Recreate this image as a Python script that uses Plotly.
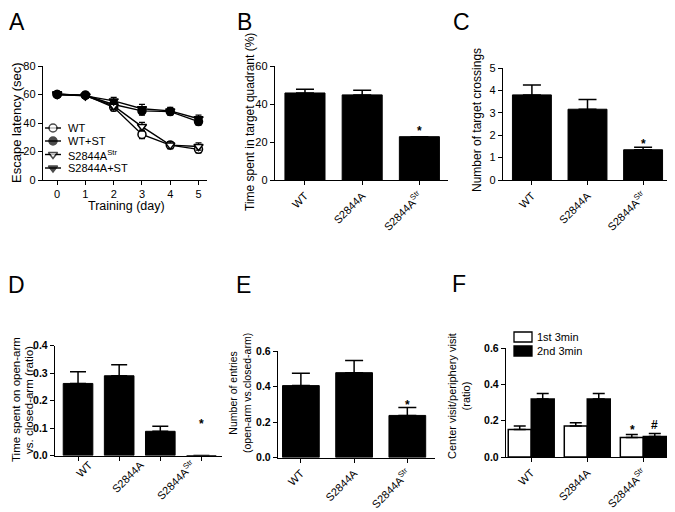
import plotly.graph_objects as go

W, H = 675, 512
OFF = 8  # the page body adds an 8px margin around the plot div
FONT = "Liberation Sans, Arial, sans-serif"

# ---- panel A: escape latency
days = [0, 1, 2, 3, 4, 5]
wt = [60, 59.5, 51, 32, 24.5, 21.5]
wt_err = [1.5, 1.5, 2.5, 3, 2.5, 2.5]
wt_st = [60, 59.5, 53, 48.5, 48, 41]
wt_st_err = [1.5, 1.5, 2.5, 3, 2.5, 2.5]
ko_str = [60, 59, 52, 37.5, 24.5, 23.5]
ko_str_err = [1.5, 1.5, 2.5, 3, 2.5, 2.5]
ko_st = [60.5, 59, 55.5, 50, 48.5, 43]
ko_st_err = [1.5, 1.5, 2.5, 3, 2.5, 2.5]
series_names = ["WT", "WT+ST", "S2844A<sup>Str</sup>", "S2844A+ST"]

groups = ["WT", "S2844A", "S2844A<sup>Str</sup>"]

# ---- panel B / C
quadrant = [45.8, 44.8, 22.8]
quadrant_err = [2.0, 2.5, 0.0]
crossings = [3.8, 3.16, 1.35]
crossings_err = [0.44, 0.43, 0.11]

# ---- panel D (four columns, three labels)
d_slots = [0, 1, 2, 3]
open_time = [0.262, 0.29, 0.088, 0.0]
open_time_err = [0.043, 0.04, 0.018, 0.0]
d_label_pos = [0.27, 1.52, 2.78]

# ---- panel E
entries = [0.405, 0.478, 0.237]
entries_err = [0.069, 0.069, 0.045]

# ---- panel F
f_series = ["1st 3min", "2nd 3min"]
first3 = [0.151, 0.170, 0.107]
first3_err = [0.019, 0.018, 0.017]
second3 = [0.319, 0.319, 0.113]
second3_err = [0.030, 0.030, 0.016]


def fx(a):
    return (a - OFF) / W


def fy(a):
    return 1 - (a - OFF) / H


def px_x(a, b):
    return [fx(a), fx(b)]


def px_y(top, bottom):
    return [fy(bottom), fy(top)]


def axis(domain, rng, anchor, **kw):
    d = dict(domain=domain, range=rng, anchor=anchor, showline=True, linecolor="black",
             linewidth=1.4, ticks="outside", ticklen=4, tickwidth=1.4, tickcolor="black",
             showgrid=False, zeroline=False, fixedrange=True, automargin=False,
             tickfont=dict(family=FONT, size=11, color="black"))
    d.update(kw)
    return d


def err(vals, w=9):
    return dict(type="data", array=vals, arrayminus=[0] * len(vals), symmetric=False,
                color="black", thickness=1.5, width=w)


fig = go.Figure()

styles = [("circle", "white"), ("circle", "black"), ("triangle-down", "white"), ("triangle-down", "black")]
a_data = [(wt, wt_err), (wt_st, wt_st_err), (ko_str, ko_str_err), (ko_st, ko_st_err)]
for name, (vals, e), (sym, fill) in zip(series_names, a_data, styles):
    fig.add_trace(go.Scatter(
        x=days, y=vals, name=name, mode="lines+markers", xaxis="x", yaxis="y",
        line=dict(color="black", width=1.4),
        marker=dict(symbol=sym, size=8, color=fill, line=dict(color="black", width=1.5)),
        error_y=dict(type="data", array=e, color="black", thickness=1.2, width=3),
        showlegend=False))

# legend keys for panel A, drawn on a hidden pixel-scaled axis over the panel
key_y = [128, 141, 154.5, 168]
for name, (sym, fill), ky in zip(series_names, styles, key_y):
    fig.add_trace(go.Scatter(
        x=[45, 53, 61], y=[ky, ky, ky], mode="lines+markers", xaxis="x8", yaxis="y8",
        line=dict(color="black", width=1.4),
        marker=dict(symbol=sym, size=[0, 8, 0], color=fill, line=dict(color="black", width=1.5)),
        showlegend=False, hoverinfo="skip"))

bar_kw = dict(marker=dict(color="black", line=dict(color="black", width=1)), showlegend=False)
fig.add_trace(go.Bar(x=groups, y=quadrant, width=0.7, error_y=err(quadrant_err),
                     xaxis="x2", yaxis="y2", **bar_kw))
fig.add_trace(go.Bar(x=groups, y=crossings, width=0.7, error_y=err(crossings_err),
                     xaxis="x3", yaxis="y3", **bar_kw))
fig.add_trace(go.Bar(x=d_slots, y=open_time, width=0.72, error_y=err(open_time_err, 8),
                     xaxis="x4", yaxis="y4", **bar_kw))
fig.add_trace(go.Bar(x=groups, y=entries, width=0.69, error_y=err(entries_err),
                     xaxis="x5", yaxis="y5", **bar_kw))
fig.add_trace(go.Bar(x=groups, y=first3, width=0.41, offset=-0.41, name=f_series[0],
                     marker=dict(color="white", line=dict(color="black", width=1.5)),
                     error_y=err(first3_err, 6), xaxis="x6", yaxis="y6", showlegend=False))
fig.add_trace(go.Bar(x=groups, y=second3, width=0.41, offset=0, name=f_series[1],
                     marker=dict(color="black", line=dict(color="black", width=1.5)),
                     error_y=err(second3_err, 6), xaxis="x6", yaxis="y6", showlegend=False))
# invisible trace so the label axis of panel D is drawn
fig.add_trace(go.Scatter(x=d_label_pos, y=[None] * 3, xaxis="x7", yaxis="y4",
                         showlegend=False, hoverinfo="skip"))

bold = dict(family=FONT, size=10.5, color="black", weight="bold")
cat_kw = dict(type="category", tickangle=-45)
hidden = dict(visible=False, fixedrange=True, showgrid=False, zeroline=False)

fig.update_layout(
    width=W, height=H, margin=dict(l=0, r=0, t=0, b=0, autoexpand=False),
    paper_bgcolor="white", plot_bgcolor="rgba(0,0,0,0)", barmode="overlay", showlegend=False,
    font=dict(family=FONT, color="black"),
    xaxis=axis(px_x(43, 207), [-0.5, 5.3], "y", tickvals=days),
    yaxis=axis(px_y(66, 180), [0, 80], "x", dtick=20),
    xaxis8=dict(hidden, domain=px_x(43, 207), range=[43, 207], anchor="y8"),
    yaxis8=dict(hidden, domain=px_y(66, 180), range=[180, 66], anchor="x8"),
    xaxis2=axis(px_x(275, 448), [-0.524, 2.5], "y2", **cat_kw),
    yaxis2=axis(px_y(66, 180), [0, 60], "x2", dtick=20),
    xaxis3=axis(px_x(503, 672), [-0.52, 2.52], "y3", **cat_kw),
    yaxis3=axis(px_y(68, 180), [0, 5], "x3", dtick=1),
    xaxis4=axis(px_x(55, 222), [-0.56, 3.5], "y4", tickvals=d_slots, showticklabels=False),
    yaxis4=axis(px_y(345.5, 455.5), [0, 0.4], "x4", dtick=0.1, tickformat=".1f", tickfont=bold),
    xaxis7=axis(px_x(55, 222), [-0.56, 3.5], "y4", overlaying="x4", tickvals=d_label_pos,
                ticktext=groups, ticks="", showline=False, tickangle=-45),
    xaxis5=axis(px_x(278, 435), [-0.43, 2.52], "y5", **cat_kw),
    yaxis5=axis(px_y(351, 457.5), [0, 0.6], "x5", dtick=0.2, tickformat=".1f", tickfont=bold),
    xaxis6=axis(px_x(506, 673), [-0.45, 2.53], "y6", **cat_kw),
    yaxis6=axis(px_y(348, 457), [0, 0.6], "x6", dtick=0.2, tickformat=".1f", tickfont=bold),
)

ann = []


def note(text, x, y, size, angle=0, xanchor="center", weight="normal"):
    ann.append(dict(text=text, x=fx(x), y=fy(y), xref="paper", yref="paper",
                    showarrow=False, textangle=angle, xanchor=xanchor, yanchor="middle",
                    font=dict(family=FONT, size=size, weight=weight)))


for letter, x, y in [("A", 16.5, 21.5), ("B", 244, 21.5), ("C", 461, 21.5),
                     ("D", 16.5, 285), ("E", 243, 285), ("F", 459, 284)]:
    note(letter, x, y, 23)

note("Escape latency (sec)", 16, 123, 13, -90)
note("Training (day)", 127, 206, 12.5)
note("Time spent in target quadrant (%)", 250, 122, 12, -90)
note("Number of target crossings", 477, 120, 12, -90)
note("Time spent on open-arm", 16, 400, 11.5, -90)
note("vs. closed-arm (ratio)", 29, 400, 11.5, -90)
note("Number of entries<br>(open-arm vs.closed-arm)", 240, 393, 10.5, -90)
note("Center visit/periphery visit<br>(ratio)", 459, 396, 11, -90)

# legend texts for panel A
for name, ky in zip(series_names, key_y):
    ann.append(dict(text=name, x=66, y=ky, xref="x8", yref="y8", showarrow=False,
                    xanchor="left", yanchor="middle", font=dict(family=FONT, size=11)))

# legend for panel F
f_fill = ["white", "black"]
f_key_y = [337, 351]
shapes = []
for name, fill, ky in zip(f_series, f_fill, f_key_y):
    shapes.append(dict(type="rect", xref="paper", yref="paper", x0=fx(514), x1=fx(532),
                       y0=fy(ky + 5), y1=fy(ky - 5), fillcolor=fill,
                       line=dict(color="black", width=1.3)))
    note(name, 535, ky, 11, xanchor="left")

stars = [("*", "x2", "y2", groups[2], 27.5, 0), ("*", "x3", "y3", groups[2], 1.74, 0),
         ("*", "x4", "y4", 3, 0.127, 0), ("*", "x5", "y5", groups[2], 0.313, 0),
         ("*", "x6", "y6", groups[2], 0.163, -0.205), ("#", "x6", "y6", groups[2], 0.178, 0.205)]
for t, xr, yr, x, y, sh in stars:
    ann.append(dict(text=t, x=x, y=y, xref=xr, yref=yr, showarrow=False,
                    xshift=sh * 55, yshift=-3 if t == "*" else 0,
                    font=dict(family=FONT, size=12, weight="bold")))

fig.update_layout(annotations=ann, shapes=shapes)
fig.write_html("out.html")
